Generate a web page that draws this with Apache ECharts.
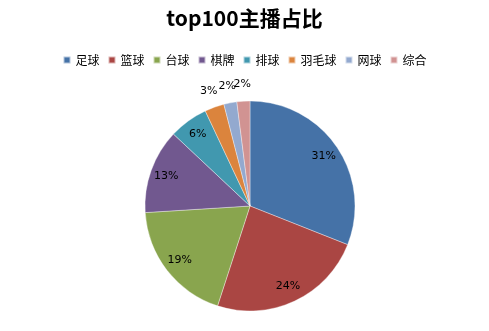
<!DOCTYPE html>
<html><head><meta charset="utf-8">
<script src="https://cdn.jsdelivr.net/npm/echarts@6/dist/echarts.min.js"></script>
<style>html,body{margin:0;padding:0;background:#fff}#c{width:489px;height:331px}</style>
</head><body><div id="c"></div>
<script>
const categories = ['足球','篮球','台球','棋牌','排球','羽毛球','网球','综合'];
const values = [31, 24, 19, 13, 6, 3, 2, 2];
const colors = ['#4572A7','#AA4643','#89A54E','#71588F','#4198AF','#DB843D','#93A9CF','#D19392'];
const smallThreshold = 4;

const chart = echarts.init(document.getElementById('c'));
const center = ['250', '206'];
const mainData = categories.map((n,i)=>({name:n, value:values[i], itemStyle:{color:colors[i]}}));
const innerLabelData = categories.map((n,i)=>({name:n, value:values[i], label:{show: values[i] >= smallThreshold}}));
const outerLabelData = categories.map((n,i)=>({name:n, value:values[i], label:{show: values[i] < smallThreshold}}));
const labelStyle = {position:'inside', formatter:'{c}%', color:'#000', fontSize:11, fontFamily:'DejaVu Sans'};
chart.setOption({
  animation:false,
  title:{text:'top100主播占比', left:'center', top:3, textStyle:{fontSize:21, fontWeight:'bold', color:'#000', fontFamily:'Noto Sans CJK SC'}},
  legend:{top:49, left:'center', itemWidth:7, itemHeight:7, itemGap:8, icon:'rect', textStyle:{fontSize:12, color:'#000', fontFamily:'Noto Sans CJK SC'}, data:categories},
  series:[
    {type:'pie', center:center, radius:[0,105], startAngle:90, clockwise:true, label:{show:false}, labelLine:{show:false},
     itemStyle:{borderColor:'rgba(255,255,255,0.6)', borderWidth:0.6}, data:mainData, silent:true},
    {type:'pie', center:center, radius:[0,172], startAngle:90, clockwise:true, itemStyle:{color:'transparent'}, silent:true,
     label:labelStyle, labelLine:{show:false}, labelLayout:{hideOverlap:false}, data:innerLabelData, legendHoverLink:false},
    {type:'pie', center:center, radius:[0,238], startAngle:90, clockwise:true, itemStyle:{color:'transparent'}, silent:true,
     label:labelStyle, labelLine:{show:false}, labelLayout:{hideOverlap:false}, data:outerLabelData, legendHoverLink:false}
  ]
});
</script></body></html>
